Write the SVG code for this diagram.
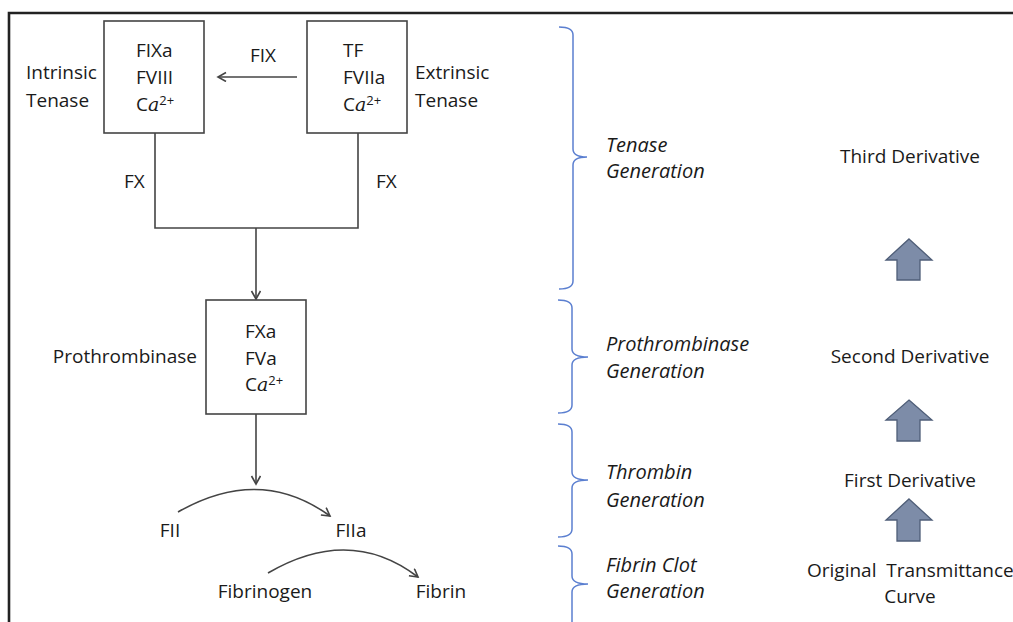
<svg xmlns="http://www.w3.org/2000/svg" width="1013" height="622" viewBox="0 0 1013 622">
<defs>
<style>
.t{font-family:"Open Sans","Liberation Sans",sans-serif;font-size:19px;fill:#1a1a1a}
.it{font-style:italic;font-size:20px}
.box{fill:#fff;stroke:#444;stroke-width:1.6}
.ln{fill:none;stroke:#444;stroke-width:1.6}
.br{fill:none;stroke:#5b7fd0;stroke-width:1.5}
.ba{fill:#7d8ca8;stroke:#4f5e78;stroke-width:1.3}
.ca{font-family:"DejaVu Serif","Liberation Serif",serif;font-style:italic}
</style>
<marker id="ah" markerWidth="12" markerHeight="12" refX="9" refY="5" orient="auto" markerUnits="userSpaceOnUse">
<path d="M1,0.5 L9,5 L1,9.5" fill="none" stroke="#444" stroke-width="1.6"/>
</marker>
</defs>
<rect width="1013" height="622" fill="#fff"/>
<path d="M9,630 L9,13 L1020,13" fill="none" stroke="#222" stroke-width="2.6"/>

<g id="connectors">
<line class="ln" x1="297" y1="77" x2="218" y2="77" marker-end="url(#ah)"/>
<path class="ln" d="M155,133 L155,228 L358,228 L358,133"/>
<line class="ln" x1="256" y1="228" x2="256" y2="299" marker-end="url(#ah)"/>
<line class="ln" x1="256" y1="414" x2="256" y2="484" marker-end="url(#ah)"/>
<path class="ln" d="M178,512 Q260,465 330,516" marker-end="url(#ah)"/>
<path class="ln" d="M268,573 Q350,525 418,577" marker-end="url(#ah)"/>
<text class="t" x="263" y="62" text-anchor="middle">FIX</text>
<text class="t" x="124" y="188">FX</text>
<text class="t" x="376" y="188">FX</text>
</g>

<g id="intrinsic">
<rect class="box" x="104" y="21" width="100" height="112"/>
<text class="t" x="136" y="57">FIXa</text>
<text class="t" x="136" y="84">FVIII</text>
<text class="t" x="136" y="111">C<tspan class="ca">a</tspan><tspan font-size="13" dy="-6">2+</tspan></text>
<text class="t" x="26" y="79">Intrinsic</text>
<text class="t" x="26" y="107">Tenase</text>
</g>

<g id="extrinsic">
<rect class="box" x="307" y="21" width="100" height="112"/>
<text class="t" x="343" y="57">TF</text>
<text class="t" x="343" y="84">FVIIa</text>
<text class="t" x="343" y="111">C<tspan class="ca">a</tspan><tspan font-size="13" dy="-6">2+</tspan></text>
<text class="t" x="415" y="79">Extrinsic</text>
<text class="t" x="415" y="107">Tenase</text>
</g>

<g id="prothrombinase">
<rect class="box" x="206" y="300" width="100" height="114"/>
<text class="t" x="245" y="338">FXa</text>
<text class="t" x="245" y="365">FVa</text>
<text class="t" x="245" y="391">C<tspan class="ca">a</tspan><tspan font-size="13" dy="-6">2+</tspan></text>
<text class="t" x="197" y="363" text-anchor="end">Prothrombinase</text>
</g>

<g id="fii"><text class="t" x="170" y="537" text-anchor="middle">FII</text></g>
<g id="fiia"><text class="t" x="351" y="537" text-anchor="middle">FIIa</text></g>
<g id="fibrinogen"><text class="t" x="265" y="598" text-anchor="middle">Fibrinogen</text></g>
<g id="fibrin"><text class="t" x="441" y="598" text-anchor="middle">Fibrin</text></g>

<g id="brace-tenase">
<path class="br" d="M559,27 Q573,27 573,35 L573,149 Q573,157 587,157 Q573,157 573,165 L573,281 Q573,289 559,289"/>
<text class="t it" x="606" y="152">Tenase</text>
<text class="t it" x="606" y="178">Generation</text>
</g>
<g id="brace-prothrombinase">
<path class="br" d="M558,300 Q572,300 572,308 L572,349 Q572,357 588,357 Q572,357 572,365 L572,405 Q572,413 558,413"/>
<text class="t it" x="606" y="351">Prothrombinase</text>
<text class="t it" x="606" y="378">Generation</text>
</g>
<g id="brace-thrombin">
<path class="br" d="M558,424 Q572,424 572,432 L572,472 Q572,480 588,480 Q572,480 572,488 L572,529 Q572,537 558,537"/>
<text class="t it" x="606" y="479">Thrombin</text>
<text class="t it" x="606" y="507">Generation</text>
</g>
<g id="brace-fibrin">
<path class="br" d="M558,546 Q572,546 572,554 L572,576 Q572,584 588,584 Q572,584 572,592 L572,630"/>
<text class="t it" x="606" y="572">Fibrin Clot</text>
<text class="t it" x="606" y="598">Generation</text>
</g>

<g id="third"><text class="t" x="910" y="163" text-anchor="middle">Third Derivative</text></g>
<g id="arrow1"><polygon class="ba" points="909,239 932,260 920,260 920,280 897,280 897,260 886,260"/></g>
<g id="second"><text class="t" x="910" y="363" text-anchor="middle">Second Derivative</text></g>
<g id="arrow2"><polygon class="ba" points="909,400 932,420 920,420 920,441 897,441 897,420 886,420"/></g>
<g id="first"><text class="t" x="910" y="487" text-anchor="middle">First Derivative</text></g>
<g id="arrow3"><polygon class="ba" points="909,499 932,520 920,520 920,541 897,541 897,520 886,520"/></g>
<g id="original">
<text class="t" x="807" y="577" xml:space="preserve">Original  Transmittance</text>
<text class="t" x="910" y="603" text-anchor="middle">Curve</text>
</g>
</svg>
